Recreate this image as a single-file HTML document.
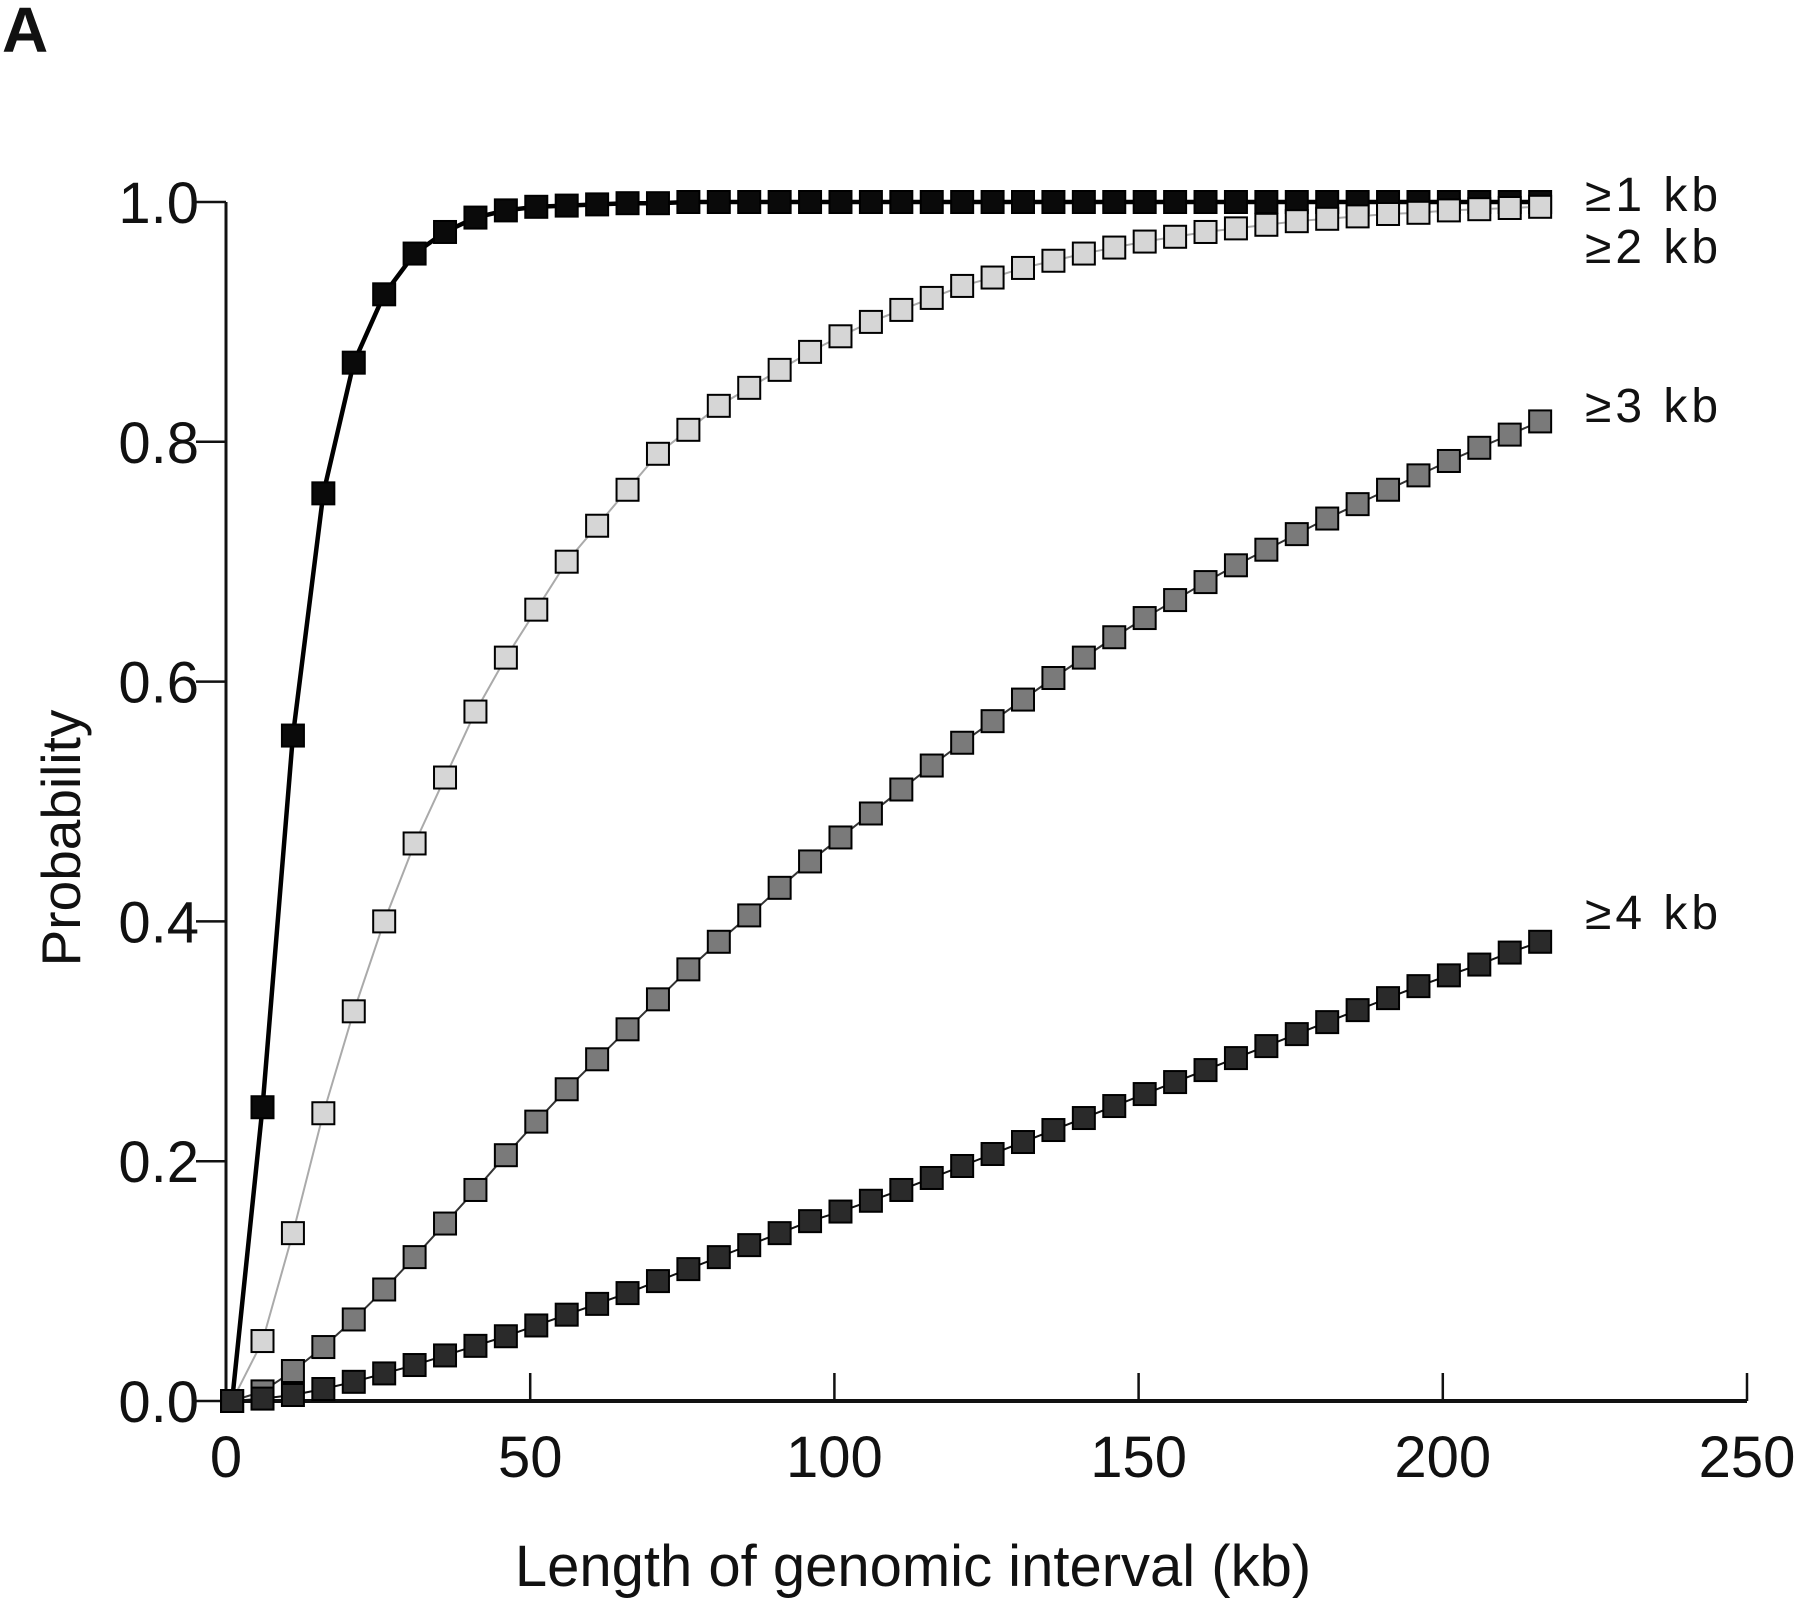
<!DOCTYPE html>
<html><head><meta charset="utf-8"><style>
body{margin:0;background:#fff}
svg text{font-family:"Liberation Sans",sans-serif;fill:#111}
</style></head><body>
<svg id="chart" width="1800" height="1600" viewBox="0 0 1800 1600" xmlns="http://www.w3.org/2000/svg">
<text x="2" y="52" font-size="64" font-weight="bold">A</text>
<g id="axes"></g>
<g id="marks"></g>
<text transform="translate(80,838) rotate(-90)" text-anchor="middle" font-size="55">Probability</text>
<text x="913" y="1586" text-anchor="middle" font-size="58">Length of genomic interval (kb)</text>
</svg>
<script>
const xs = [];
for (let k = 0; k < 44; k++) xs.push(1 + 5 * k);
const s1 = [0,0.245,0.555,0.757,0.866,0.923,0.957,0.975,0.987,0.993,0.996,0.997,0.998,0.999,0.999,1,1,1,1,1,1,1,1,1,1,1,1,1,1,1,1,1,1,1,1,1,1,1,1,1,1,1,1,1];
const s2 = [0,0.05,0.14,0.24,0.325,0.40,0.465,0.52,0.575,0.62,0.66,0.70,0.73,0.76,0.79,0.81,0.83,0.845,0.86,0.875,0.888,0.90,0.91,0.92,0.93,0.937,0.945,0.951,0.957,0.962,0.967,0.971,0.975,0.978,0.981,0.984,0.986,0.988,0.99,0.991,0.993,0.994,0.995,0.996];
const s3 = [0,0.008,0.025,0.045,0.068,0.093,0.12,0.148,0.176,0.205,0.233,0.26,0.285,0.31,0.335,0.36,0.383,0.405,0.428,0.45,0.47,0.49,0.51,0.53,0.549,0.567,0.585,0.603,0.62,0.637,0.653,0.668,0.683,0.697,0.71,0.723,0.736,0.748,0.76,0.772,0.784,0.795,0.806,0.817];
const s4 = [0,0.002,0.005,0.01,0.016,0.023,0.03,0.038,0.046,0.054,0.063,0.072,0.081,0.09,0.1,0.11,0.12,0.13,0.14,0.15,0.158,0.167,0.176,0.186,0.196,0.206,0.216,0.226,0.236,0.246,0.256,0.266,0.276,0.286,0.296,0.306,0.316,0.326,0.336,0.346,0.355,0.364,0.374,0.383];
const xTicks = [0,50,100,150,200,250];
const yTicks = [0,0.2,0.4,0.6,0.8,1.0];
const yTickLabels = ["0.0","0.2","0.4","0.6","0.8","1.0"];
const seriesLabels = ["≥1 kb","≥2 kb","≥3 kb","≥4 kb"];

const X = v => 226 + (v / 250) * (1747 - 226);
const Y = v => 1401 - v * (1401 - 202);
const NS = "http://www.w3.org/2000/svg";
function mk(tag, attrs, parent) {
  const e = document.createElementNS(NS, tag);
  for (const k in attrs) e.setAttribute(k, attrs[k]);
  parent.appendChild(e);
  return e;
}
const axes = document.getElementById('axes');
const marks = document.getElementById('marks');
const xa = mk('line', {x1: X(0), y1: Y(0), x2: X(250), y2: Y(0), stroke: '#111', 'stroke-width': 4}, axes);


const ya = mk('line', {x1: X(0), y1: Y(0), x2: X(0), y2: Y(1), stroke: '#111', 'stroke-width': 3}, axes);


xTicks.forEach(t => {
  const l = mk('line', {x1: X(t), y1: Y(0), x2: X(t), y2: Y(0) - 28, stroke: '#111', 'stroke-width': 2.5}, axes);
  
  
  const tx = mk('text', {x: X(t), y: 1477, 'text-anchor': 'middle', 'font-size': 58}, axes);
  tx.textContent = t;
  
  
});
yTicks.forEach((t, i) => {
  const l = mk('line', {x1: X(0) - 30, y1: Y(t), x2: X(0), y2: Y(t), stroke: '#111', 'stroke-width': 2.5}, axes);
  
  
  const tx = mk('text', {x: 199, y: Y(t) + 21, 'text-anchor': 'end', 'font-size': 58}, axes);
  tx.textContent = yTickLabels[i];
  
  
});
const series = [
  {d: s1, line: '#000', lw: 4.5, fill: '#0a0a0a', ly: 195},
  {d: s2, line: '#aaa', lw: 2, fill: '#d6d6d6', ly: 247},
  {d: s3, line: '#333', lw: 2, fill: '#7a7a7a', ly: 406},
  {d: s4, line: '#111', lw: 2, fill: '#2a2a2a', ly: 913}
];
series.forEach((s, si) => {
  const g = mk('g', {}, marks);
  
  
  const pts = s.d.map((v, i) => X(xs[i]) + ',' + Y(v)).join(' ');
  const pl = mk('polyline', {points: pts, fill: 'none', stroke: s.line, 'stroke-width': s.lw}, g);
  
  
  s.d.forEach((v, i) => {
    const r = mk('rect', {x: X(xs[i]) - 11, y: Y(v) - 11, width: 22, height: 22, fill: s.fill, stroke: '#000', 'stroke-width': 2}, g);
    
    
  });
  const lb = mk('text', {x: 1585, y: s.ly + 16, 'font-size': 48, 'letter-spacing': 4}, g);
  lb.textContent = seriesLabels[si];
  
  
});
</script>
</body></html>
